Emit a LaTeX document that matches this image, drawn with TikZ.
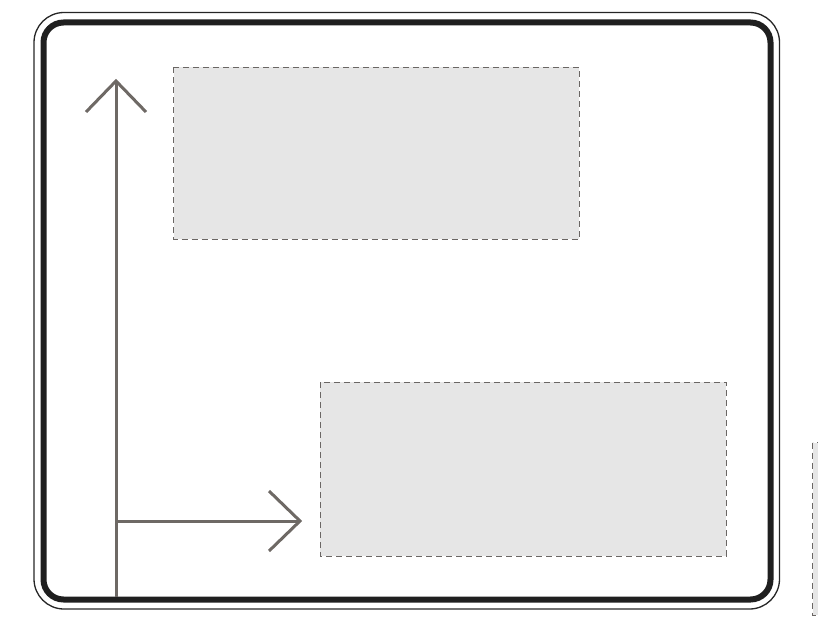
\documentclass[tikz,border=0pt]{standalone}
\begin{document}
\begin{tikzpicture}[x=1pt,y=-1pt,
  frameouter/.style={draw=black!85, line width=1.3pt, rounded corners=30pt},
  frameinner/.style={draw=black!88, line width=6pt, rounded corners=20pt},
  axis/.style={draw=axisgray, line width=3pt},
  panel/.style={draw=dashgray, fill=panelfill, line width=1pt, dash pattern=on 6pt off 4pt},
]
\definecolor{axisgray}{HTML}{6E6965}
\definecolor{dashgray}{HTML}{6A6664}
\definecolor{panelfill}{HTML}{E6E6E6}
\useasboundingbox (0,0) rectangle (818,626);
\clip (0,0) rectangle (818,626);

% sign frame
\draw[frameouter] (34,12.5) rectangle (779.5,609);
\draw[frameinner] (43.5,22.5) rectangle (770.5,599.5);

% panels
\path[panel] (173.5,67) rectangle (579,239) coordinate (p1);
\path[panel] (320,382) rectangle (726,556) coordinate (p2);
\path[panel] (812.5,442.5) rectangle (840,615) coordinate (p3);

% axes
\coordinate (base) at (116,597);
\coordinate (top) at (116,81);
\coordinate (corner) at (116,521);
\coordinate (tip) at (300,521);
\draw[axis] (base) -- (top);
\draw[axis] (86,112) -- (top) -- (146,112);
\draw[axis] (corner) -- (tip);
\draw[axis] (269,491) -- (tip) -- (269,551);
\end{tikzpicture}
\end{document}
